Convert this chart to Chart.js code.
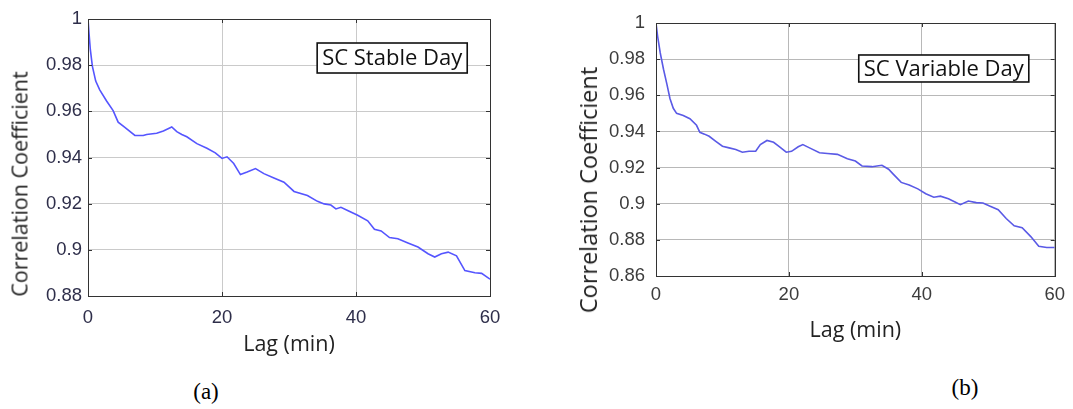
<!DOCTYPE html>
<html>
<head>
<meta charset="utf-8">
<script src="https://cdn.jsdelivr.net/npm/chart.js@4.4.0/dist/chart.umd.min.js"></script>
<style>
  body { margin: 0; background: #fff; width: 1073px; height: 409px; position: relative; overflow: hidden; }
  canvas { position: absolute; top: 0; }
  .ytitle { position: absolute; font-family: 'Open Sans', sans-serif; color: #222; white-space: nowrap;
            transform: translate(-50%, -50%) rotate(-90deg); }
  .panel { position: absolute; font-family: 'Liberation Serif', serif; font-size: 23px; color: #000;
           transform: translate(-50%, -50%); }
</style>
</head>
<body>
<canvas id="chartA" width="520" height="370" style="left:0"></canvas>
<canvas id="chartB" width="533" height="370" style="left:540px"></canvas>
<div class="ytitle" style="left:19px;top:184px;font-size:21.5px">Correlation Coefficient</div>
<div class="ytitle" style="left:588px;top:190px;font-size:23.5px">Correlation Coefficient</div>
<div class="panel" style="left:206px;top:392px">(a)</div>
<div class="panel" style="left:965px;top:388px">(b)</div>
<script>
// (a) SC Stable Day
const lagA = [0, 0.15, 0.35, 0.65, 1.15, 1.75, 2.75, 3.75, 4.5, 5.5, 7, 8.25, 8.75, 10.25, 11.25, 12.5, 13.25, 14, 14.75, 16.25,
  17.75, 19, 20, 20.75, 21.75, 22.75, 23.75, 25, 26.25, 27.75, 29.25, 30.75, 32.75, 34.25, 35.25, 36.25, 37, 37.75, 38.75, 40.25,
  41.75, 42.75, 43.75, 45, 46.25, 47.75, 49.25, 50.75, 51.75, 52.75, 53.75, 55, 56.25, 57.75, 58.75, 60];
const corrA = [1.0, 0.9939, 0.9867, 0.9796, 0.9731, 0.9693, 0.9646, 0.9603, 0.9553, 0.9531, 0.9496, 0.9495, 0.950, 0.9505, 0.9515, 0.9532, 0.9512, 0.950, 0.949, 0.946,
  0.944, 0.942, 0.9396, 0.9403, 0.9374, 0.9326, 0.9337, 0.9352, 0.933, 0.9311, 0.9293, 0.9253, 0.9235, 0.921, 0.9199, 0.9194, 0.9177, 0.9184, 0.917, 0.915,
  0.9126, 0.9089, 0.9082, 0.9053, 0.9048, 0.903, 0.9012, 0.8983, 0.8969, 0.8983, 0.899, 0.8974, 0.891, 0.8901, 0.8898, 0.8873];
const yTicksA = [0.88, 0.9, 0.92, 0.94, 0.96, 0.98, 1];

// (b) SC Variable Day
const lagB = [0, 0.25, 0.64, 1.13, 1.63, 2.1, 2.6, 3.1, 4.1, 5.1, 6.1, 6.6, 7.3, 8.0, 9.0, 10, 11, 12, 13, 14,
  15, 15.7, 16.7, 17.7, 18.6, 19.6, 20.4, 21.4, 22.1, 23.1, 24.6, 25.8, 27.3, 28.8, 30, 31, 32.5, 34, 35, 35.7,
  36.9, 38.1, 39.4, 40.6, 41.8, 42.8, 44, 45, 45.8, 47, 48.2, 49.2, 50.2, 51.5, 52.7, 53.9, 55.1, 56.4, 57.6, 58.8, 60];
const corrB = [1.0, 0.9925, 0.9834, 0.9744, 0.9663, 0.9582, 0.9528, 0.950, 0.9488, 0.947, 0.9434, 0.9395, 0.9385, 0.9373, 0.9345, 0.9318, 0.9309, 0.930, 0.9285, 0.929,
  0.929, 0.9327, 0.935, 0.934, 0.9315, 0.9285, 0.929, 0.9315, 0.9327, 0.9309, 0.9282, 0.9278, 0.9273, 0.9249, 0.9236, 0.9209, 0.9205, 0.9213, 0.9191, 0.9164,
  0.9118, 0.9104, 0.9082, 0.9055, 0.9036, 0.9042, 0.9027, 0.9009, 0.8995, 0.9015, 0.9006, 0.9004, 0.8987, 0.8967, 0.8918, 0.8878, 0.8867, 0.8818, 0.8764, 0.8758, 0.8758];
const yTicksB = [0.86, 0.88, 0.9, 0.92, 0.94, 0.96, 0.98, 1];

const xTicks = [0, 20, 40, 60];

// box around the axes, inward tick marks and the text label, matlab style
const matlabBox = {
  id: 'matlabBox',
  afterDatasetsDraw(chart, args, opts) {
    const { ctx, chartArea: a, scales: { x, y } } = chart;
    ctx.save();
    ctx.strokeStyle = opts.color;
    ctx.lineWidth = 1;
    ctx.beginPath();
    x.ticks.forEach(t => {
      const px = Math.round(x.getPixelForValue(t.value)) + 0.5;
      ctx.moveTo(px, a.bottom); ctx.lineTo(px, a.bottom - 4);
      ctx.moveTo(px, a.top); ctx.lineTo(px, a.top + 4);
    });
    y.ticks.forEach(t => {
      const py = Math.round(y.getPixelForValue(t.value)) + 0.5;
      ctx.moveTo(a.left, py); ctx.lineTo(a.left + 4, py);
      ctx.moveTo(a.right, py); ctx.lineTo(a.right - 4, py);
    });
    ctx.stroke();
    ctx.strokeRect(Math.round(a.left) + 0.5, Math.round(a.top) + 0.5,
      Math.round(a.right - a.left), Math.round(a.bottom - a.top));

    // label box
    ctx.font = opts.font;
    const tw = ctx.measureText(opts.text).width;
    const right = x.getPixelForValue(opts.atX);
    const top = y.getPixelForValue(opts.atY);
    const w = tw + 10, h = opts.boxH;
    ctx.fillStyle = '#fff';
    ctx.fillRect(right - w, top, w, h);
    ctx.strokeStyle = '#111';
    ctx.lineWidth = 1.6;
    ctx.strokeRect(right - w, top, w, h);
    ctx.fillStyle = '#111';
    ctx.textBaseline = 'middle';
    ctx.textAlign = 'center';
    ctx.fillText(opts.text, right - w / 2, top + h / 2 + 1);
    ctx.restore();
  }
};

function makeChart(id, lags, vals, yTicks, cfg) {
  const points = lags.map((l, i) => ({ x: l, y: vals[i] }));
  return new Chart(document.getElementById(id), {
    type: 'line',
    data: {
      datasets: [{
        data: points,
        borderColor: cfg.lineColor,
        borderWidth: 1.6,
        pointRadius: 0,
        tension: 0,
        fill: false
      }]
    },
    plugins: [matlabBox],
    options: {
      responsive: false,
      animation: false,
      layout: { padding: { left: 0, top: cfg.top, right: cfg.right, bottom: 0 } },
      plugins: {
        legend: { display: false },
        tooltip: { enabled: false },
        matlabBox: { color: '#333', text: cfg.label, font: cfg.labelFont, atX: cfg.labelX, atY: cfg.labelY, boxH: cfg.boxH }
      },
      scales: {
        x: {
          type: 'linear',
          min: 0, max: 60,
          afterBuildTicks: s => { s.ticks = xTicks.map(v => ({ value: v })); },
          afterFit: s => { s.height = cfg.xHeight; },
          grid: { color: cfg.gridColor, drawTicks: false },
          border: { display: false },
          ticks: { padding: cfg.xPad, color: cfg.tickColor, font: { family: 'Liberation Sans', size: 18.5 }, maxRotation: 0 },
          title: { display: true, text: 'Lag (min)', color: '#222',
                   font: { family: 'Open Sans', size: 21.5 }, padding: { top: 0, bottom: cfg.xTitlePad } }
        },
        y: {
          type: 'linear',
          min: yTicks[0], max: yTicks[yTicks.length - 1],
          afterBuildTicks: s => { s.ticks = yTicks.map(v => ({ value: v })); },
          afterFit: s => { s.width = cfg.yWidth; },
          grid: { color: cfg.gridColor, drawTicks: false },
          border: { display: false },
          ticks: { padding: cfg.yPad, color: cfg.tickColor, font: { family: 'Liberation Sans', size: 18.5 },
                   callback: v => String(Number(v.toFixed(2))) }
        }
      }
    }
  });
}

makeChart('chartA', lagA, corrA, yTicksA, {
  lineColor: 'rgb(85,85,255)', gridColor: '#cacaca', tickColor: '#2e2e4a',
  top: 19, right: 30, xHeight: 74, yWidth: 88, xPad: 11, yPad: 6, xTitlePad: 12,
  label: 'SC Stable Day', labelFont: '22px "Open Sans"', labelX: 56.6, labelY: 0.9896, boxH: 30
});

makeChart('chartB', lagB, corrB, yTicksB, {
  lineColor: 'rgb(90,90,230)', gridColor: '#b8b8b8', tickColor: '#3c3c3c',
  top: 23, right: 12, xHeight: 94, yWidth: 116, xPad: 8, yPad: 11, xTitlePad: 26,
  label: 'SC Variable Day', labelFont: '22px "Open Sans"', labelX: 56.1, labelY: 0.9823, boxH: 27
});
</script>
</body>
</html>
